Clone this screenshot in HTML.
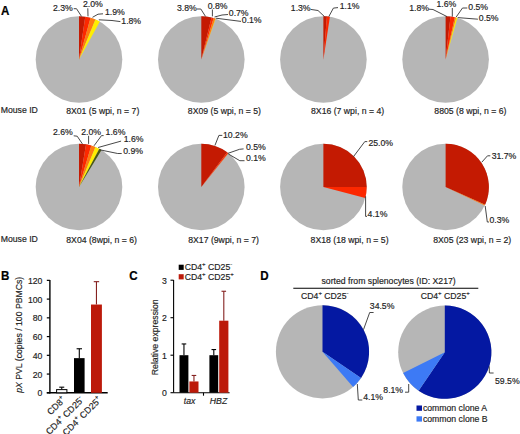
<!DOCTYPE html>
<html><head><meta charset="utf-8"><style>
html,body{margin:0;padding:0;background:#fff;}
svg{display:block;}
text{font-family:"Liberation Sans",sans-serif;fill:#232323;stroke:#232323;stroke-width:0.17px;}
</style></head><body>
<svg width="520" height="434" viewBox="0 0 520 434">
<text transform="translate(0.9,15.2) scale(1,1.1)" font-size="11.6" font-weight="bold" style="fill:#000;stroke:#000;stroke-width:0.2px">A</text>
<circle cx="79.0" cy="59.5" r="43.3" fill="#b6b6b6"/>
<path d="M79.0,59.5 L79.00,16.20 A43.3,43.3 0 0 1 85.24,16.65 Z" fill="#c41a02"/>
<path d="M79.0,59.5 L85.24,16.65 A43.3,43.3 0 0 1 90.56,17.77 Z" fill="#fc2800"/>
<path d="M79.0,59.5 L90.56,17.77 A43.3,43.3 0 0 1 95.44,19.44 Z" fill="#ff7a10"/>
<path d="M79.0,59.5 L95.44,19.44 A43.3,43.3 0 0 1 99.86,21.56 Z" fill="#ffee00"/>
<circle cx="201.3" cy="59.5" r="43.3" fill="#b6b6b6"/>
<path d="M201.3,59.5 L201.30,16.20 A43.3,43.3 0 0 1 211.54,17.43 Z" fill="#c41a02"/>
<path d="M201.3,59.5 L211.54,17.43 A43.3,43.3 0 0 1 213.64,18.00 Z" fill="#fc2800"/>
<path d="M201.3,59.5 L213.64,18.00 A43.3,43.3 0 0 1 215.45,18.58 Z" fill="#ff7a10"/>
<path d="M201.3,59.5 L215.45,18.58 A43.3,43.3 0 0 1 215.71,18.67 Z" fill="#ffee00"/>
<circle cx="323.4" cy="59.5" r="43.3" fill="#b6b6b6"/>
<path d="M323.4,59.5 L323.40,16.20 A43.3,43.3 0 0 1 326.93,16.34 Z" fill="#c41a02"/>
<path d="M323.4,59.5 L326.93,16.34 A43.3,43.3 0 0 1 329.90,16.69 Z" fill="#fc2800"/>
<circle cx="445.6" cy="59.5" r="43.3" fill="#b6b6b6"/>
<path d="M445.6,59.5 L445.60,16.20 A43.3,43.3 0 0 1 450.49,16.48 Z" fill="#c41a02"/>
<path d="M445.6,59.5 L450.49,16.48 A43.3,43.3 0 0 1 454.78,17.18 Z" fill="#fc2800"/>
<path d="M445.6,59.5 L454.78,17.18 A43.3,43.3 0 0 1 456.10,17.49 Z" fill="#ff7a10"/>
<path d="M445.6,59.5 L456.10,17.49 A43.3,43.3 0 0 1 457.42,17.84 Z" fill="#ffee00"/>
<circle cx="79.0" cy="187.0" r="43.3" fill="#b6b6b6"/>
<path d="M79.0,187.0 L79.00,143.70 A43.3,43.3 0 0 1 86.04,144.28 Z" fill="#c41a02"/>
<path d="M79.0,187.0 L86.04,144.28 A43.3,43.3 0 0 1 91.34,145.50 Z" fill="#fc2800"/>
<path d="M79.0,187.0 L91.34,145.50 A43.3,43.3 0 0 1 95.44,146.94 Z" fill="#ff7a10"/>
<path d="M79.0,187.0 L95.44,146.94 A43.3,43.3 0 0 1 99.38,148.80 Z" fill="#ffee00"/>
<path d="M79.0,187.0 L99.38,148.80 A43.3,43.3 0 0 1 101.51,150.01 Z" fill="#4a5a10"/>
<circle cx="201.3" cy="187.0" r="43.3" fill="#b6b6b6"/>
<path d="M201.3,187.0 L201.30,143.70 A43.3,43.3 0 0 1 227.19,152.29 Z" fill="#c41a02"/>
<path d="M201.3,187.0 L227.19,152.29 A43.3,43.3 0 0 1 228.27,153.12 Z" fill="#fc2800"/>
<path d="M201.3,187.0 L228.27,153.12 A43.3,43.3 0 0 1 228.48,153.29 Z" fill="#ff7a10"/>
<circle cx="323.4" cy="187.0" r="43.3" fill="#b6b6b6"/>
<path d="M323.4,187.0 L323.40,143.70 A43.3,43.3 0 0 1 366.70,187.00 Z" fill="#c41a02"/>
<path d="M323.4,187.0 L366.70,187.00 A43.3,43.3 0 0 1 365.27,198.03 Z" fill="#fc2800"/>
<circle cx="445.6" cy="187.0" r="43.3" fill="#b6b6b6"/>
<path d="M445.6,187.0 L445.60,143.70 A43.3,43.3 0 0 1 485.12,204.69 Z" fill="#c41a02"/>
<path d="M445.6,187.0 L485.12,204.69 A43.3,43.3 0 0 1 484.78,205.44 Z" fill="#ff7a10"/>
<text x="53" y="11.2" font-size="8.7" text-anchor="start" >2.3%</text>
<text x="82.9" y="7.2" font-size="8.7" text-anchor="start" >2.0%</text>
<text x="104.9" y="15.2" font-size="8.7" text-anchor="start" >1.9%</text>
<text x="121.3" y="23.5" font-size="8.7" text-anchor="start" >1.8%</text>
<path d="M73.7,8.7 L76.5,8.7 L81.5,16.4" fill="none" stroke="#333333" stroke-width="0.9"/>
<path d="M87.8,8.3 L88,16.4" fill="none" stroke="#333333" stroke-width="0.9"/>
<path d="M103,13.8 L98,14.2 L92.5,17.3" fill="none" stroke="#333333" stroke-width="0.9"/>
<path d="M120.4,21.6 L112,20.5 L98.8,19.8" fill="none" stroke="#333333" stroke-width="0.9"/>
<text x="176.9" y="10.5" font-size="8.7" text-anchor="start" >3.8%</text>
<text x="207.7" y="9.3" font-size="8.7" text-anchor="start" >0.8%</text>
<text x="228.8" y="15.7" font-size="8.7" text-anchor="start" >0.7%</text>
<text x="241.8" y="22.5" font-size="8.7" text-anchor="start" >0.1%</text>
<path d="M196.8,9 L200.8,9 L205.5,16.4" fill="none" stroke="#333333" stroke-width="0.9"/>
<path d="M212.4,9.5 L212.4,16.4" fill="none" stroke="#333333" stroke-width="0.9"/>
<path d="M228,14.5 L222,15 L214.5,17" fill="none" stroke="#333333" stroke-width="0.9"/>
<path d="M241,21.4 L215.8,18.2" fill="none" stroke="#333333" stroke-width="0.9"/>
<text x="290.8" y="10.8" font-size="8.7" text-anchor="start" >1.3%</text>
<text x="339.7" y="9.4" font-size="8.7" text-anchor="start" >1.1%</text>
<path d="M310.6,9.4 L318,10.5 L324.5,16.6" fill="none" stroke="#333333" stroke-width="0.9"/>
<path d="M338,7.6 L333.4,8.1 L328.8,16.6" fill="none" stroke="#333333" stroke-width="0.9"/>
<text x="409.2" y="11.1" font-size="8.7" text-anchor="start" >1.8%</text>
<text x="436.5" y="7.2" font-size="8.7" text-anchor="start" >1.6%</text>
<text x="468.3" y="10.1" font-size="8.7" text-anchor="start" >0.5%</text>
<text x="478.8" y="20.7" font-size="8.7" text-anchor="start" >0.5%</text>
<path d="M428.8,9.2 L433,9.5 L447,16.6" fill="none" stroke="#333333" stroke-width="0.9"/>
<path d="M452.3,8 L452.3,16.6" fill="none" stroke="#333333" stroke-width="0.9"/>
<path d="M467.3,8 L462.5,8 L456.2,17" fill="none" stroke="#333333" stroke-width="0.9"/>
<path d="M477.9,19.2 L457.7,17.6" fill="none" stroke="#333333" stroke-width="0.9"/>
<text x="53" y="134.7" font-size="8.7" text-anchor="start" >2.6%</text>
<text x="81.2" y="134.7" font-size="8.7" text-anchor="start" >2.0%</text>
<text x="105.6" y="134.5" font-size="8.7" text-anchor="start" >1.6%</text>
<text x="123.7" y="141.6" font-size="8.7" text-anchor="start" >1.6%</text>
<text x="123.2" y="153.8" font-size="8.7" text-anchor="start" >0.9%</text>
<path d="M73.7,135.8 L77.2,136.2 L82.4,143.9" fill="none" stroke="#333333" stroke-width="0.9"/>
<path d="M88.6,135.8 L88.6,143.9" fill="none" stroke="#333333" stroke-width="0.9"/>
<path d="M103.6,135.6 L101.5,135.6 L94,145.8" fill="none" stroke="#333333" stroke-width="0.9"/>
<path d="M121.1,141.1 L98.1,147.5" fill="none" stroke="#333333" stroke-width="0.9"/>
<path d="M121.7,153.5 L117.7,153.5 L99.8,149.8" fill="none" stroke="#333333" stroke-width="0.9"/>
<text x="223" y="138.1" font-size="8.7" text-anchor="start" >10.2%</text>
<text x="245.9" y="149.5" font-size="8.7" text-anchor="start" >0.5%</text>
<text x="245.9" y="161.1" font-size="8.7" text-anchor="start" >0.1%</text>
<path d="M222.3,135.4 L218.9,135.4 L214.9,145.5" fill="none" stroke="#333333" stroke-width="0.9"/>
<path d="M243.6,148.9 L239.5,149.3 L227.8,153.4" fill="none" stroke="#333333" stroke-width="0.9"/>
<path d="M244.5,160.7 L239.8,160.7 L228.4,154" fill="none" stroke="#333333" stroke-width="0.9"/>
<text x="368.4" y="145.9" font-size="8.7" text-anchor="start" >25.0%</text>
<text x="367.6" y="217" font-size="8.7" text-anchor="start" >4.1%</text>
<path d="M353.5,156.6 L364.8,141.6 L367.3,141.6" fill="none" stroke="#333333" stroke-width="0.9"/>
<path d="M365.6,196.3 L365.6,216.4 L367,216.4" fill="none" stroke="#333333" stroke-width="0.9"/>
<text x="491.7" y="159.3" font-size="8.7" text-anchor="start" >31.7%</text>
<text x="489.4" y="223" font-size="8.7" text-anchor="start" >0.3%</text>
<path d="M481.8,162.2 L487.5,155.8 L490.3,155.8" fill="none" stroke="#333333" stroke-width="0.9"/>
<path d="M485.2,206 L487.3,222 L489,222" fill="none" stroke="#333333" stroke-width="0.9"/>
<text x="0.7" y="113.4" font-size="8.7" text-anchor="start" >Mouse ID</text>
<text x="0.7" y="242.2" font-size="8.7" text-anchor="start" >Mouse ID</text>
<text x="66.15" y="113.6" font-size="8.7" text-anchor="start" >8X01 (5 wpi, n = 7)</text>
<text x="187.8" y="113.6" font-size="8.7" text-anchor="start" >8X09 (5 wpi, n = 5)</text>
<text x="311" y="113.6" font-size="8.7" text-anchor="start" >8X16 (7 wpi, n = 4)</text>
<text x="434.3" y="113.6" font-size="8.7" text-anchor="start" >8805 (8 wpi, n = 6)</text>
<text x="66.25" y="242.5" font-size="8.7" text-anchor="start" >8X04 (8wpi, n = 6)</text>
<text x="188.2" y="242.5" font-size="8.7" text-anchor="start" >8X17 (9wpi, n = 7)</text>
<text x="310.6" y="242.5" font-size="8.7" text-anchor="start" >8X18 (18 wpi, n = 5)</text>
<text x="433.2" y="242.5" font-size="8.7" text-anchor="start" >8X05 (23 wpi, n = 2)</text>
<text transform="translate(1.0,280.0) scale(1,1.1)" font-size="11.6" font-weight="bold" style="fill:#000;stroke:#000;stroke-width:0.2px">B</text>
<path d="M49.9,280.0 L49.9,393.5" fill="none" stroke="#000" stroke-width="1.4"/>
<path d="M46.8,392.8 L107.7,392.8" fill="none" stroke="#000" stroke-width="1.5"/>
<path d="M46.8,392.8 L49.9,392.8" fill="none" stroke="#000" stroke-width="1.2"/>
<text x="42.4" y="396.3" font-size="8.7" text-anchor="end" >0</text>
<path d="M46.8,374.06 L49.9,374.06" fill="none" stroke="#000" stroke-width="1.2"/>
<text x="42.4" y="377.56" font-size="8.7" text-anchor="end" >20</text>
<path d="M46.8,355.32 L49.9,355.32" fill="none" stroke="#000" stroke-width="1.2"/>
<text x="42.4" y="358.82" font-size="8.7" text-anchor="end" >40</text>
<path d="M46.8,336.58 L49.9,336.58" fill="none" stroke="#000" stroke-width="1.2"/>
<text x="42.4" y="340.08" font-size="8.7" text-anchor="end" >60</text>
<path d="M46.8,317.84000000000003 L49.9,317.84000000000003" fill="none" stroke="#000" stroke-width="1.2"/>
<text x="42.4" y="321.34000000000003" font-size="8.7" text-anchor="end" >80</text>
<path d="M46.8,299.1 L49.9,299.1" fill="none" stroke="#000" stroke-width="1.2"/>
<text x="42.4" y="302.6" font-size="8.7" text-anchor="end" >100</text>
<path d="M46.8,280.36 L49.9,280.36" fill="none" stroke="#000" stroke-width="1.2"/>
<text x="42.4" y="283.86" font-size="8.7" text-anchor="end" >120</text>
<path d="M61.75,389.61420000000004 L61.75,387.178" fill="none" stroke="#000" stroke-width="1.1"/><path d="M59.25,387.178 L64.25,387.178" fill="none" stroke="#000" stroke-width="1.1"/><rect x="56.6" y="389.61420000000004" width="10.300000000000004" height="3.185799999999972" fill="#fff" stroke="#000" stroke-width="1"/>
<path d="M79.3,358.13100000000003 L79.3,348.761" fill="none" stroke="#000" stroke-width="1.1"/><path d="M76.6,348.761 L82.0,348.761" fill="none" stroke="#000" stroke-width="1.1"/><rect x="74.0" y="358.13100000000003" width="10.599999999999994" height="34.66899999999998" fill="#000"/>
<path d="M96.45,304.5346 L96.45,281.6718" fill="none" stroke="#852220" stroke-width="1.1"/><path d="M93.75,281.6718 L99.15,281.6718" fill="none" stroke="#852220" stroke-width="1.1"/><rect x="91.0" y="304.5346" width="10.900000000000006" height="88.2654" fill="#bc1a0a"/>
<text transform="translate(22.4,392.8) rotate(-90)" font-size="8.7"><tspan font-style="italic">pX</tspan> PVL (copies / 100 PBMCs)</text>
<text transform="translate(66,400.4) rotate(-45)" font-size="9" text-anchor="end">CD8<tspan dy="-4" font-size="6">+</tspan></text>
<text transform="translate(84.2,400.6) rotate(-45)" font-size="9" text-anchor="end">CD4<tspan dy="-4" font-size="6">+</tspan><tspan dy="4"> CD25</tspan><tspan dy="-4" font-size="6">-</tspan></text>
<text transform="translate(102,400.4) rotate(-45)" font-size="9" text-anchor="end">CD4<tspan dy="-4" font-size="6">+</tspan><tspan dy="4"> CD25</tspan><tspan dy="-4" font-size="6">+</tspan></text>
<text transform="translate(129.2,279.7) scale(1,1.1)" font-size="11.6" font-weight="bold" style="fill:#000;stroke:#000;stroke-width:0.2px">C</text>
<path d="M173.6,280 L173.6,392.7" fill="none" stroke="#000" stroke-width="1.1"/>
<path d="M173.6,392.7 L229.6,392.7" fill="none" stroke="#000" stroke-width="1.1"/>
<path d="M170.5,392.7 L173.6,392.7" fill="none" stroke="#000" stroke-width="1.1"/>
<text x="166.8" y="396.0" font-size="8.7" text-anchor="end" >0</text>
<path d="M170.5,355.2 L173.6,355.2" fill="none" stroke="#000" stroke-width="1.1"/>
<text x="166.8" y="358.5" font-size="8.7" text-anchor="end" >1</text>
<path d="M170.5,317.7 L173.6,317.7" fill="none" stroke="#000" stroke-width="1.1"/>
<text x="166.8" y="321.0" font-size="8.7" text-anchor="end" >2</text>
<path d="M170.5,280.2 L173.6,280.2" fill="none" stroke="#000" stroke-width="1.1"/>
<text x="166.8" y="283.5" font-size="8.7" text-anchor="end" >3</text>
<path d="M203.5,392.7 L203.5,395.7" fill="none" stroke="#000" stroke-width="1.1"/>
<path d="M183.95,355.2 L183.95,343.95" fill="none" stroke="#000" stroke-width="1.1"/><path d="M181.64999999999998,343.95 L186.25,343.95" fill="none" stroke="#000" stroke-width="1.1"/><rect x="179.5" y="355.2" width="8.900000000000006" height="37.5" fill="#000"/>
<path d="M193.95,381.45 L193.95,375.45" fill="none" stroke="#852220" stroke-width="1.1"/><path d="M191.64999999999998,375.45 L196.25,375.45" fill="none" stroke="#852220" stroke-width="1.1"/><rect x="189.4" y="381.45" width="9.099999999999994" height="11.25" fill="#bc1a0a"/>
<path d="M213.8,355.2 L213.8,349.575" fill="none" stroke="#000" stroke-width="1.1"/><path d="M211.5,349.575 L216.10000000000002,349.575" fill="none" stroke="#000" stroke-width="1.1"/><rect x="209.4" y="355.2" width="8.799999999999983" height="37.5" fill="#000"/>
<path d="M223.8,320.7 L223.8,291.2625" fill="none" stroke="#852220" stroke-width="1.1"/><path d="M221.5,291.2625 L226.10000000000002,291.2625" fill="none" stroke="#852220" stroke-width="1.1"/><rect x="219.2" y="320.7" width="9.200000000000017" height="72.0" fill="#bc1a0a"/>
<text x="189.6" y="403.6" font-size="8.7" text-anchor="middle" font-style="italic">tax</text>
<text x="218.5" y="403.6" font-size="8.7" text-anchor="middle" font-style="italic">HBZ</text>
<text transform="translate(158.4,337.3) rotate(-90)" font-size="8.7" text-anchor="middle">Relative expression</text>
<rect x="178.7" y="264.7" width="5" height="5.2" fill="#000"/>
<rect x="178.7" y="274.2" width="5" height="5.2" fill="#bc1a0a"/>
<text x="184.7" y="270.2" font-size="8.7">CD4<tspan dy="-4" font-size="6">+</tspan><tspan dy="4"> CD25</tspan><tspan dy="-4" font-size="6">-</tspan></text>
<text x="184.7" y="279.7" font-size="8.7">CD4<tspan dy="-4" font-size="6">+</tspan><tspan dy="4"> CD25</tspan><tspan dy="-4" font-size="6">+</tspan></text>
<text transform="translate(260.2,280.2) scale(1,1.1)" font-size="11.6" font-weight="bold" style="fill:#000;stroke:#000;stroke-width:0.2px">D</text>
<text x="321.5" y="284" font-size="8.7" text-anchor="start" >sorted from splenocytes (ID: X217)</text>
<path d="M293.3,288.3 L478.3,288.3" fill="none" stroke="#000" stroke-width="1.1"/>
<text x="301" y="298.7" font-size="8.7">CD4<tspan dy="-4" font-size="6">+</tspan><tspan dy="4"> CD25</tspan><tspan dy="-4" font-size="6">-</tspan></text>
<text x="420.7" y="298.6" font-size="8.7">CD4<tspan dy="-4" font-size="6">+</tspan><tspan dy="4"> CD25</tspan><tspan dy="-4" font-size="6">+</tspan></text>
<circle cx="322.5" cy="351.8" r="46.6" fill="#b6b6b6"/>
<path d="M322.5,351.8 L322.50,305.20 A46.6,46.6 0 0 1 361.04,377.99 Z" fill="#0418a2"/>
<path d="M322.5,351.8 L361.04,377.99 A46.6,46.6 0 0 1 353.10,386.95 Z" fill="#3d7af5"/>
<circle cx="444.8" cy="352.2" r="46.6" fill="#b6b6b6"/>
<path d="M444.8,352.2 L444.80,305.60 A46.6,46.6 0 1 1 418.61,390.74 Z" fill="#0418a2"/>
<path d="M444.8,352.2 L418.61,390.74 A46.6,46.6 0 0 1 403.15,373.09 Z" fill="#3d7af5"/>
<text x="369.8" y="308.9" font-size="8.7" text-anchor="start" >34.5%</text>
<text x="363.2" y="400" font-size="8.7" text-anchor="start" >4.1%</text>
<path d="M363.5,329.6 L369.7,312.5 L373.6,312.5" fill="none" stroke="#333333" stroke-width="0.9"/>
<path d="M357.3,384 L358.3,400 L362.3,400" fill="none" stroke="#333333" stroke-width="0.9"/>
<text x="495" y="384.1" font-size="8.7" text-anchor="start" >59.5%</text>
<path d="M489.2,366.3 L489.4,373 L493.6,373" fill="none" stroke="#333333" stroke-width="0.9"/>
<text x="383.3" y="392.7" font-size="8.7" text-anchor="start" >8.1%</text>
<path d="M408.7,384 L408.7,392.2 L405,392.2" fill="none" stroke="#333333" stroke-width="0.9"/>
<rect x="416.5" y="405.5" width="5.5" height="5.3" fill="#0418a2"/>
<rect x="416.5" y="416.3" width="5.5" height="5.3" fill="#3d7af5"/>
<text x="422.9" y="410.8" font-size="8.7" text-anchor="start" >common clone A</text>
<text x="422.9" y="421.6" font-size="8.7" text-anchor="start" >common clone B</text>
</svg>
</body></html>
